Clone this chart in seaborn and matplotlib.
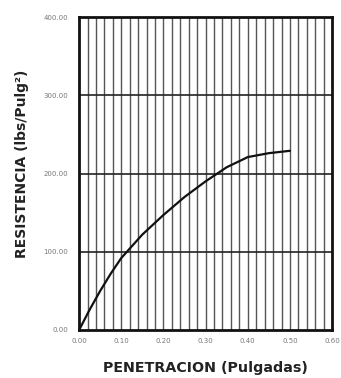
import numpy as np
import pandas as pd
import matplotlib
matplotlib.use("Agg")
import matplotlib.pyplot as plt
import seaborn as sns

# Load-penetration readings
penetracion = [0.000, 0.025, 0.050, 0.075, 0.100, 0.150, 0.200, 0.250, 0.300, 0.350, 0.400, 0.450, 0.500]
resistencia = [0.0, 26.0, 50.0, 72.0, 92.0, 122.0, 147.0, 170.0, 190.0, 208.0, 221.0, 226.0, 229.0]

x_ticks = [0.0, 0.1, 0.2, 0.3, 0.4, 0.5, 0.6]
y_ticks = [0.0, 100.0, 200.0, 300.0, 400.0]

sns.set_theme(style="white")
plt.rcParams["font.family"] = ["DejaVu Sans"]

df = pd.DataFrame({"pen": penetracion, "res": resistencia})

fig = plt.figure(figsize=(3.41, 3.78), dpi=100)
ax = fig.add_axes([0.232, 0.127, 0.742, 0.828])

# vertical grid every 0.02 in
for xv in np.arange(0.02, 0.6, 0.02):
    ax.axvline(xv, color="#555555", lw=1.0, zorder=1)
for yv in y_ticks[1:-1]:
    ax.axhline(yv, color="#222222", lw=1.2, zorder=1)

sns.lineplot(data=df, x="pen", y="res", ax=ax, color="#111111", lw=1.6, zorder=3)

ax.set_xlim(0, 0.6)
ax.set_ylim(0, 400)
ax.set_xticks(x_ticks)
ax.set_yticks(y_ticks)
ax.set_xticklabels([f"{v:.2f}" for v in x_ticks])
ax.set_yticklabels([f"{v:.2f}" for v in y_ticks])
ax.tick_params(axis="both", length=0, labelsize=5, labelcolor="#777777")
ax.tick_params(axis="x", pad=6)
ax.tick_params(axis="y", pad=8)

for s in ax.spines.values():
    s.set_color("#111111")
    s.set_linewidth(2.0)

ax.set_xlabel("PENETRACION (Pulgadas)", fontsize=10.3, fontweight="bold", color="#222222", labelpad=12)
ax.set_ylabel("RESISTENCIA (lbs/Pulg²)", fontsize=10, fontweight="bold", color="#222222", labelpad=14)
ax.yaxis.set_label_coords(-0.2, 0.53)

fig.savefig("out.png", dpi=100, facecolor="white")
